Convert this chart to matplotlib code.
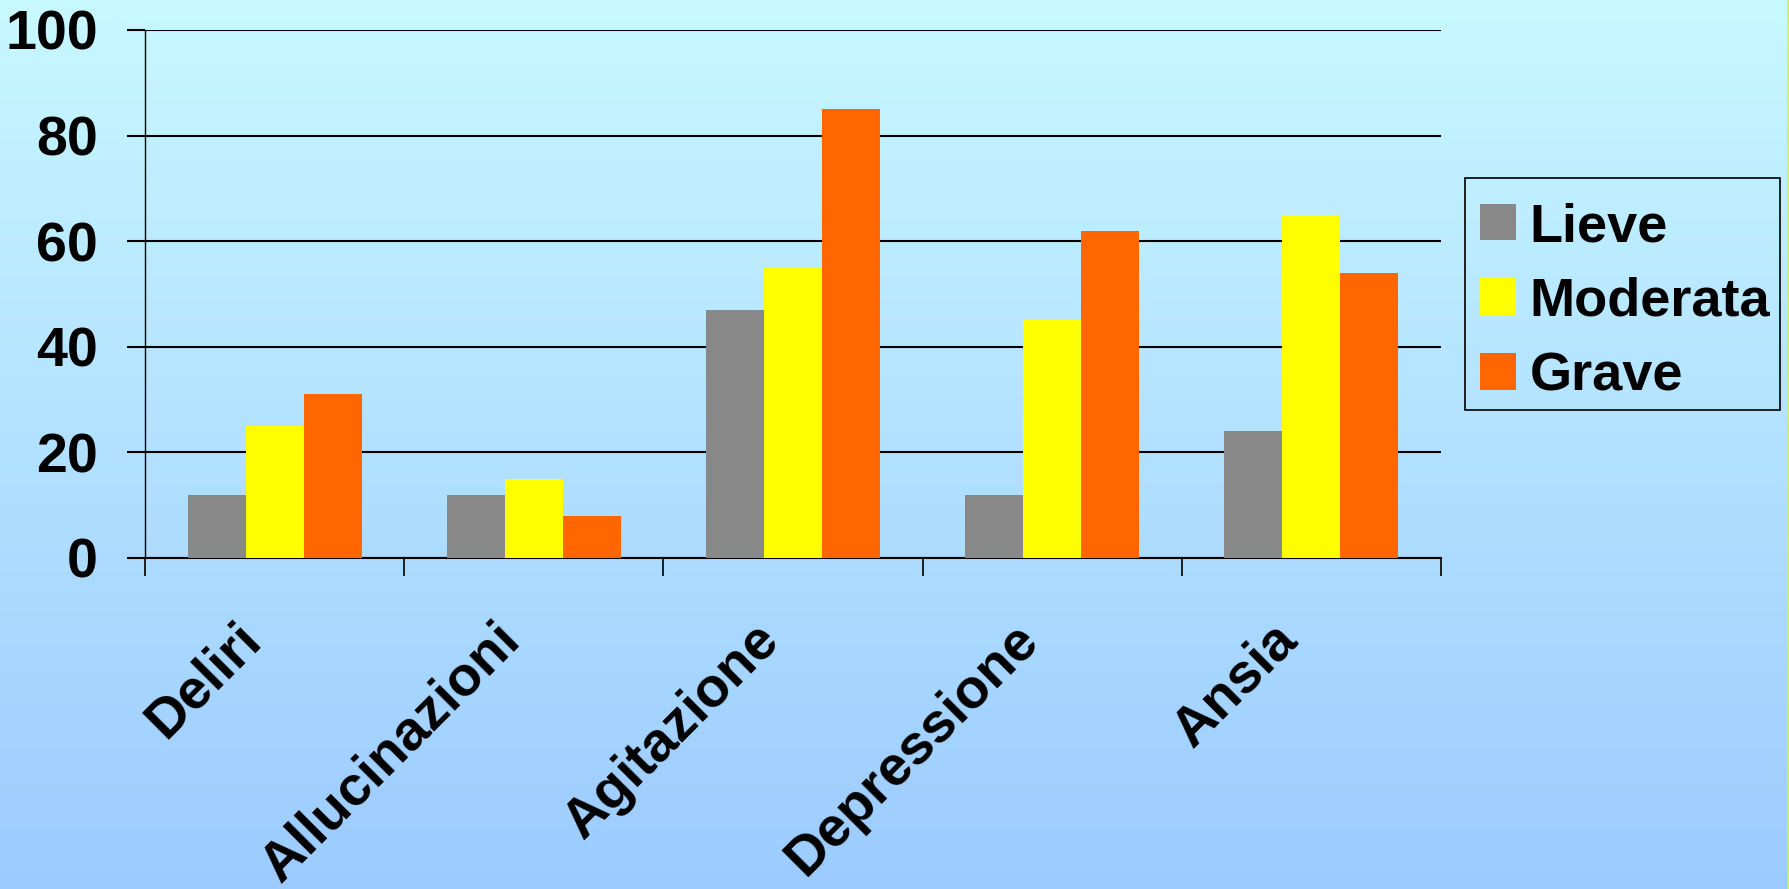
import numpy as np
import matplotlib
matplotlib.use("Agg")
import matplotlib.pyplot as plt
from matplotlib.colors import LinearSegmentedColormap
from matplotlib.transforms import ScaledTranslation
from matplotlib.patches import Rectangle

categories = ["Deliri", "Allucinazioni", "Agitazione", "Depressione", "Ansia"]
series_names = ["Lieve", "Moderata", "Grave"]
lieve = [12, 12, 47, 12, 24]
moderata = [25, 15, 55, 45, 65]
grave = [31, 8, 85, 62, 54]
yticks = [0, 20, 40, 60, 80, 100]

colors = ["#888888", "#FFFF00", "#FF6600"]

plt.rcParams['font.family'] = ['Liberation Sans', 'DejaVu Sans']
plt.rcParams['font.weight'] = 'bold'

W, H = 1789, 889
fig = plt.figure(figsize=(W / 100, H / 100), dpi=100)

# background gradient
bg = fig.add_axes([0, 0, 1, 1], zorder=-10)
cmap = LinearSegmentedColormap.from_list("bg", ["#C8F8FF", "#9CCBFF"])
grad = np.linspace(0, 1, 256).reshape(-1, 1)
bg.imshow(grad, aspect='auto', cmap=cmap, extent=[0, 1, 0, 1], origin='upper')
bg.plot([0.9995, 0.9995], [0, 1], color="#E8F020", lw=1.2)
bg.set_xlim(0, 1)
bg.set_ylim(0, 1)
bg.axis('off')

left, right = 145 / W, 1441 / W
bottom, top = 1 - 558 / H, 1 - 30 / H
ax = fig.add_axes([left, bottom, right - left, top - bottom])
ax.patch.set_alpha(0)

x = np.arange(len(categories))
bw = 0.224
data = [lieve, moderata, grave]
for i, (vals, c, name) in enumerate(zip(data, colors, series_names)):
    ax.bar(x + (i - 1) * bw, vals, width=bw, color=c, label=name, zorder=3, linewidth=0)

ax.set_xlim(-0.5, len(categories) - 0.5)
ax.set_ylim(0, 100)
ax.set_yticks(yticks)
ax.set_yticklabels([str(v) for v in yticks], fontsize=40, fontweight='bold')
ax.yaxis.grid(True, color='black', linewidth=1.5, zorder=1)
ax.set_axisbelow(True)
ax.tick_params(axis='y', length=13, width=1.5, direction='out', pad=21)

ax.set_xticks(x)
ax.set_xticklabels(categories, fontsize=40, fontweight='bold', rotation=45,
                   ha='right', va='top', rotation_mode='anchor')
ax.tick_params(axis='x', which='major', length=0, pad=40)
ax.set_xticks(np.arange(len(categories) + 1) - 0.5, minor=True)
ax.tick_params(axis='x', which='minor', length=13, width=1.2, direction='out')
shift = ScaledTranslation(-0.40, 0, fig.dpi_scale_trans)
for lab in ax.get_xticklabels():
    lab.set_transform(lab.get_transform() + shift)

for s in ['top', 'right']:
    ax.spines[s].set_visible(False)
ax.spines['left'].set_linewidth(1.0)
ax.spines['bottom'].set_linewidth(1.5)

# legend frame
box_l, box_t, box_r, box_b = 1465, 178, 1780, 410
fig.patches.append(Rectangle((box_l / W, 1 - box_b / H), (box_r - box_l) / W,
                             (box_b - box_t) / H, transform=fig.transFigure,
                             facecolor='none', edgecolor='black', linewidth=1.2))

leg = ax.legend(loc='upper left', bbox_to_anchor=(1480 / W, 1 - 202 / H),
                bbox_transform=fig.transFigure, fontsize=39, frameon=False,
                handlelength=0.67, handleheight=0.67, handletextpad=0.25,
                labelspacing=0.46, borderpad=0, borderaxespad=0)
for t in leg.get_texts():
    t.set_fontweight('bold')

fig.savefig("out.png", dpi=100)
